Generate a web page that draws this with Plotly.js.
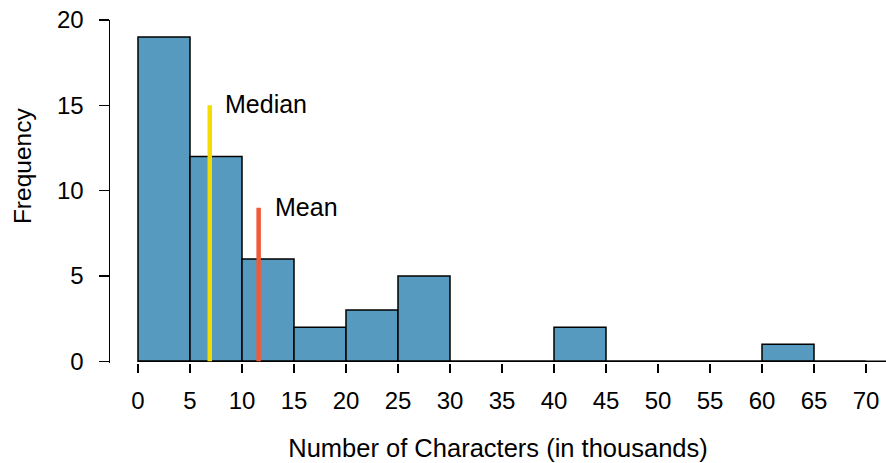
<!DOCTYPE html>
<html>
<head>
<meta charset="utf-8">
<script src="https://cdn.plot.ly/plotly-3.0.1.min.js"></script>
<style>html,body{margin:0;padding:0;background:#fff;}#chart{width:886px;height:463px;}</style>
</head>
<body>
<div id="chart"></div>
<script>
// Histogram data (bins of width 5, in thousands of characters)
var binStarts = [0, 5, 10, 15, 20, 25, 30, 35, 40, 45, 50, 55, 60, 65];
var counts    = [19, 12, 6, 2, 3, 5, 0, 0, 2, 0, 0, 0, 1, 0];
var binWidth = 5;
var xTicks = [0, 5, 10, 15, 20, 25, 30, 35, 40, 45, 50, 55, 60, 65, 70];
var yTicks = [0, 5, 10, 15, 20];
var medianValue = 6.9, medianTop = 15;
var meanValue = 11.6, meanTop = 9;

var centers = binStarts.map(function(s){ return s + binWidth/2; });

var FONT = 'Liberation Sans, Arial, Helvetica, sans-serif';

var trace = {
  type: 'bar',
  x: centers,
  y: counts,
  width: binWidth,
  marker: {color: '#569bbf', line: {color: '#000', width: 1.5}},
  hoverinfo: 'skip'
};

var layout = {
  width: 886, height: 463,
  margin: {l: 110, r: 0, t: 20, b: 100},
  paper_bgcolor: '#fff', plot_bgcolor: '#fff',
  showlegend: false,
  font: {family: FONT, color: '#000', size: 24},
  xaxis: {
    range: [-2.692, 71.923],
    tickvals: xTicks,
    ticktext: xTicks.map(String),
    ticks: 'outside', ticklen: 9, tickwidth: 1.5, tickcolor: '#000',
    showline: false, showgrid: false, zeroline: false,
    tickfont: {size: 24, family: FONT},
    ticklabelstandoff: 7,
    title: {text: 'Number of Characters (in thousands)', font: {size: 25.5, family: FONT}, standoff: 26}
  },
  yaxis: {
    range: [-0.1, 20],
    tickvals: yTicks,
    ticks: 'outside', ticklen: 10, tickwidth: 1.5, tickcolor: '#000',
    showline: true, linecolor: '#000', linewidth: 1.5,
    showgrid: false, zeroline: false,
    tickfont: {size: 24, family: FONT},
    ticklabelstandoff: 10
  },
  shapes: [
    {type: 'line', xref: 'x', yref: 'y', x0: 0, x1: 71.923, y0: 0, y1: 0,
     line: {color: '#000', width: 1.5}, layer: 'above'},
    {type: 'line', xref: 'x', yref: 'y', x0: medianValue, x1: medianValue, y0: 0, y1: medianTop,
     line: {color: '#f5dc00', width: 4.5}, layer: 'above'},
    {type: 'line', xref: 'x', yref: 'y', x0: meanValue, x1: meanValue, y0: 0, y1: meanTop,
     line: {color: '#f05a38', width: 4.5}, layer: 'above'}
  ],
  annotations: [
    {x: -0.1134, y: 0.574, xref: 'paper', yref: 'paper', text: 'Frequency', showarrow: false,
     textangle: -90, xanchor: 'center', yanchor: 'middle', font: {size: 24.5, family: FONT}},
    {x: 8.2, y: 15.1, xref: 'x', yref: 'y', text: 'Median', showarrow: false,
     xanchor: 'left', yanchor: 'middle', font: {size: 25, family: FONT}},
    {x: 12.95, y: 9.05, xref: 'x', yref: 'y', text: 'Mean', showarrow: false,
     xanchor: 'left', yanchor: 'middle', font: {size: 25, family: FONT}}
  ]
};

Plotly.newPlot('chart', [trace], layout, {staticPlot: true, displayModeBar: false});
</script>
</body>
</html>
